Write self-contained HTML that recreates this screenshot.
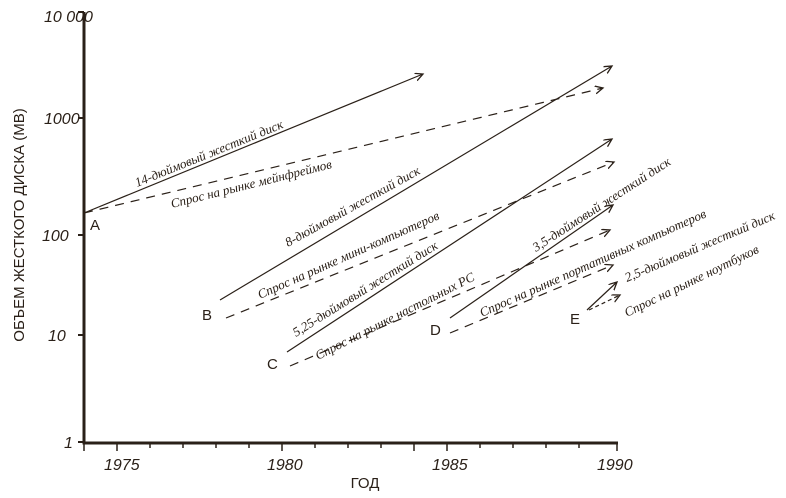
<!DOCTYPE html>
<html><head><meta charset="utf-8"><style>
html,body{margin:0;padding:0;background:#fff;}
svg{display:block;}
.l{font-family:"Liberation Serif","DejaVu Serif",serif;font-style:italic;font-size:13px;fill:#2a2018;}
.t{font-family:"Liberation Sans","DejaVu Sans",sans-serif;font-style:italic;font-size:16px;fill:#2a2018;}
.p{font-family:"Liberation Sans","DejaVu Sans",sans-serif;font-size:15px;fill:#2a2018;}
</style></head><body>
<svg width="786" height="498" viewBox="0 0 786 498" xmlns="http://www.w3.org/2000/svg">
<defs><marker id="ar" markerWidth="10" markerHeight="10" refX="8" refY="4" orient="auto" markerUnits="userSpaceOnUse"><path d="M0,0 L8,4 L0,8" fill="none" stroke="#2a2018" stroke-width="1.3"/></marker></defs>
<g stroke="#2a2018" fill="none">
<path d="M84,12 V443 H618" stroke-width="3"/>
<path d="M78,12 H84 M78,118 H84 M78,235 H84 M78,335 H84 M78,442 H84" stroke-width="2"/>
<path d="M84,442 v9 M117,442 v9 M150,442 v6 M183,442 v6 M216,442 v6 M249,442 v6 M282,442 v9 M315,442 v6 M348,442 v6 M381,442 v6 M414,442 v9 M447,442 v9 M480,442 v6 M513,442 v6 M546,442 v6 M579,442 v6 M617,442 v9" stroke-width="1.5"/>
<g stroke-width="1.2" marker-end="url(#ar)">
<line x1="84" y1="213" x2="423" y2="74"/>
<line x1="220" y1="300" x2="612" y2="66"/>
<line x1="287" y1="352" x2="612" y2="139"/>
<line x1="450" y1="318" x2="613" y2="205"/>
<line x1="587" y1="310" x2="617" y2="282"/>
</g>
<g stroke-width="1.2" stroke-dasharray="9,7" marker-end="url(#ar)">
<line x1="84" y1="213" x2="603" y2="88"/>
<line x1="226" y1="318" x2="614" y2="162"/>
<line x1="290" y1="366" x2="610" y2="230"/>
<line x1="450" y1="333" x2="613" y2="265"/>
<line x1="589" y1="310" x2="620" y2="295" stroke-dasharray="4,3"/>
</g>
</g>
<g class="t">
<text x="44" y="22">10 000</text>
<text x="44" y="124">1000</text>
<text x="42" y="241">100</text>
<text x="48" y="341">10</text>
<text x="64" y="448">1</text>
<text x="104" y="470">1975</text>
<text x="267" y="470">1980</text>
<text x="432" y="470">1985</text>
<text x="597" y="470">1990</text>
</g>
<text class="p" x="365" y="488" text-anchor="middle" font-size="19">ГОД</text>
<text class="p" transform="translate(24,225) rotate(-90)" text-anchor="middle" font-size="19">ОБЪЕМ ЖЕСТКОГО ДИСКА (MB)</text>
<g class="p" font-size="16">
<text x="90" y="230">A</text><text x="202" y="320">B</text><text x="267" y="369">C</text><text x="430" y="335">D</text><text x="570" y="324">E</text>
</g>
<g class="l">
<text transform="translate(137,187) rotate(-22)">14-дюймовый жесткий диск</text>
<text transform="translate(172,208) rotate(-14)">Спрос на рынке мейнфреймов</text>
<text transform="translate(288,247) rotate(-29)">8-дюймовый жесткий диск</text>
<text transform="translate(260,299) rotate(-24)">Спрос на рынке мини-компьютеров</text>
<text transform="translate(296,337) rotate(-32)">5,25-дюймовый жесткий диск</text>
<text transform="translate(318,360) rotate(-27)">Спрос на рынке настольных PC</text>
<text transform="translate(536,252) rotate(-33)">3,5-дюймовый жесткий диск</text>
<text transform="translate(482,317) rotate(-24)">Спрос на рынке портативных компьютеров</text>
<text transform="translate(627,282) rotate(-23)">2,5-дюймовый жесткий диск</text>
<text transform="translate(627,317) rotate(-26)">Спрос на рынке ноутбуков</text>
</g>
</svg>
</body></html>
